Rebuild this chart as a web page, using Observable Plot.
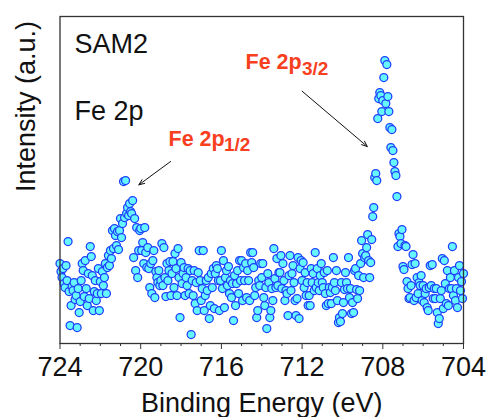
<!DOCTYPE html>
<html><head><meta charset="utf-8">
<script src="https://cdn.jsdelivr.net/npm/d3@7"></script>
<script src="https://cdn.jsdelivr.net/npm/@observablehq/plot@0.6"></script>
<style>
html,body{margin:0;padding:0;background:#fff;}
#chart svg{display:block;}
</style></head><body><div id="chart"></div>
<script>
// Fe 2p XPS spectrum of SAM2, intensity (a.u.),
// sampled every 0.05 eV from 724.00 eV down to 704.00 eV
const intensity = [
80,72,66,75,60,56,78,63,102,52,18,38,57,53,61,44,48,16,55,31,
42,63,80,73,47,83,55,38,70,45,97,87,68,33,52,63,43,50,75,33,
62,50,72,58,66,80,50,76,88,78,93,85,113,95,115,108,98,112,94,113,
125,106,120,162,126,163,130,136,128,140,132,130,143,86,125,73,116,66,93,113,
115,93,101,80,116,91,76,96,75,56,80,50,83,93,46,72,66,61,73,58,
63,100,58,96,66,47,80,63,73,82,48,70,82,56,90,75,48,95,66,
26,81,60,70,76,48,66,58,75,50,73,9,63,48,73,40,61,33,71,93,
63,43,55,93,33,48,63,53,66,25,38,70,56,75,35,70,78,75,63,33,
63,93,55,83,36,66,73,58,77,50,63,46,60,23,68,38,60,73,50,83,
63,83,43,76,63,80,46,73,63,43,91,81,91,76,48,56,26,33,63,58,
80,66,80,46,38,56,15,70,61,26,33,55,43,95,65,56,85,58,71,
71,88,55,80,63,43,53,50,28,68,88,53,70,78,61,43,28,45,86,25,
75,83,63,81,56,71,48,61,38,48,38,75,61,70,53,91,56,75,61,53,
68,80,61,56,71,50,38,73,40,56,51,40,56,86,61,53,73,43,21,26,
22,61,30,41,54,71,61,55,86,46,55,30,41,31,73,75,54,45,68,
53,80,103,90,66,86,88,96,109,83,66,81,104,127,136,166,170,163,225,245,
251,248,232,243,266,283,240,279,247,232,216,196,214,193,181,172,168,147,97,110,
107,100,114,77,74,98,97,62,55,45,46,58,79,89,43,80,46,66,50,61,
58,68,43,58,41,50,55,36,33,56,78,58,79,45,55,45,55,31,20,25,
45,53,85,35,83,60,40,73,38,55,66,55,97,48,73,43,55,36,66,78,53,
62,45,70
];
const energyStart = 724;
const energyStep = 0.05;
const majorTicks = [724, 720, 716, 712, 708, 704];
const minorTicks = [723, 722, 721, 719, 718, 717, 715, 714, 713, 711, 710, 709, 707, 706, 705];
const xLabel = "Binding Energy (eV)";
const yLabel = "Intensity (a.u.)";
const sampleLabel = "SAM2";
const regionLabel = "Fe 2p";
const peakMain = ["Fe 2p", "Fe 2p"];
const peakSub = ["1/2", "3/2"];
const arrowFrom = [[718.52, 182], [712.0, 252.3]];
const arrowTo = [[720.09, 158.7], [708.77, 197]];

const data = intensity.map((v, i) => ({e: +(energyStart - i * energyStep).toFixed(2), v}));
const arrows = arrowFrom.map((f, i) => ({x1: f[0], y1: f[1], x2: arrowTo[i][0], y2: arrowTo[i][1]}));

const font = `"Liberation Sans", Arial, Helvetica, sans-serif`;
const red = "#f8401f";

const plot = Plot.plot({
  width: 489, height: 417,
  marginLeft: 59.5, marginRight: 26, marginTop: 16, marginBottom: 74,
  style: {fontFamily: font, background: "#fff", overflow: "visible", color: "#000"},
  x: {domain: [724, 704]},
  y: {domain: [0, 327], axis: null},
  marks: [
    Plot.dot(data, {x: "e", y: "v", r: 4, fill: "#66f6ff", stroke: "#1f3cff", strokeWidth: 1.25}),
    Plot.frame({stroke: "#333", strokeWidth: 1.3}),
    Plot.axisX(minorTicks, {tickSize: 3, tickFormat: () => "", label: null, stroke: "#333"}),
    Plot.axisX(majorTicks, {tickSize: 6, tickPadding: 7.5, fontSize: 27, label: null, stroke: "#333", fill: "#111", tickFormat: d => String(d)}),
    Plot.text([xLabel], {frameAnchor: "bottom", lineAnchor: "bottom", dy: 68, fontSize: 27, fill: "#111", text: d => d}),
    Plot.text([yLabel], {frameAnchor: "left", rotate: -90, lineAnchor: "bottom", dx: -25.5, dy: 12, fontSize: 27, fill: "#111", text: d => d}),
    Plot.text([sampleLabel], {frameAnchor: "top-left", textAnchor: "start", lineAnchor: "bottom", dx: 14.5, dy: 36.7, fontSize: 27, fill: "#111", text: d => d}),
    Plot.text([regionLabel], {frameAnchor: "top-left", textAnchor: "start", lineAnchor: "bottom", dx: 14.5, dy: 103.6, fontSize: 27, fill: "#111", text: d => d}),
    Plot.text([peakMain[0]], {frameAnchor: "top-left", textAnchor: "start", lineAnchor: "bottom", dx: 108.5, dy: 129, fontSize: 21.5, fontWeight: "bold", fill: red, text: d => d}),
    Plot.text([peakSub[0]], {frameAnchor: "top-left", textAnchor: "start", lineAnchor: "bottom", dx: 164, dy: 134, fontSize: 19, fontWeight: "bold", fill: red, text: d => d}),
    Plot.text([peakMain[1]], {frameAnchor: "top-left", textAnchor: "start", lineAnchor: "bottom", dx: 185.5, dy: 52, fontSize: 21.5, fontWeight: "bold", fill: red, text: d => d}),
    Plot.text([peakSub[1]], {frameAnchor: "top-left", textAnchor: "start", lineAnchor: "bottom", dx: 242, dy: 58, fontSize: 19, fontWeight: "bold", fill: red, text: d => d}),
    Plot.arrow(arrows, {x1: "x1", y1: "y1", x2: "x2", y2: "y2", stroke: "#111", strokeWidth: 1, headLength: 9, headAngle: 45})
  ]
});
document.getElementById("chart").appendChild(plot);
</script>
</body></html>
